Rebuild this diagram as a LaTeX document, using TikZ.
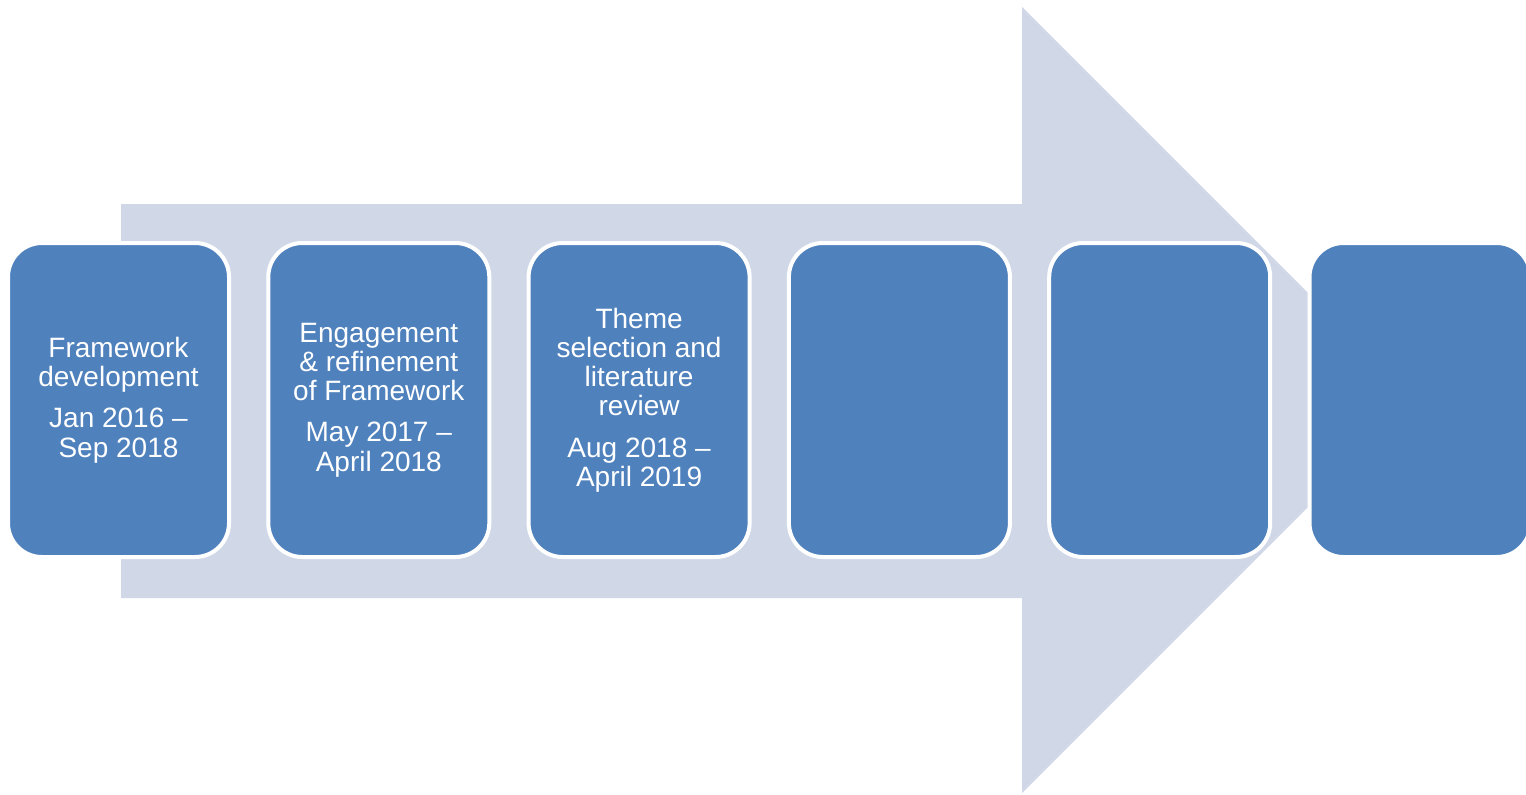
\documentclass[tikz,border=0pt]{standalone}
\usepackage{fontspec}
\setmainfont{Liberation Sans}
\definecolor{arrowgray}{RGB}{208,216,232}
\definecolor{stageblue}{RGB}{79,129,189}

\begin{document}
\begin{tikzpicture}[x=0.5pt,y=-0.5pt,
  stage/.style={draw=white, line width=2pt, fill=stageblue, rounded corners=17pt, minimum width=110.5pt, minimum height=157pt, text=white, align=center, font=\fontsize{14}{14.6}\selectfont}]
\useasboundingbox (0,0) rectangle (1526,794);
\fill [arrowgray] (121,204) -- (1022,204) -- (1022,7) -- (1415,400) -- (1022,793) -- (1022,598) -- (121,598) -- cycle;
\node [stage] (framework) at (118.5,400) {Framework\\development\\[6pt]Jan 2016 --\\Sep 2018};
\node [stage] (engagement) at (378.8,400) {Engagement\\\& refinement\\of Framework\\[6pt]May 2017 --\\April 2018};
\node [stage] (theme) at (639.1,400) {Theme\\selection and\\literature\\review\\[6pt]Aug 2018 --\\April 2019};
\node [stage] (stagefour) at (899.4,400) {};
\node [stage] (stagefive) at (1159.7,400) {};
\node [stage] (stagesix) at (1420,400) {};
\end{tikzpicture}
\end{document}
